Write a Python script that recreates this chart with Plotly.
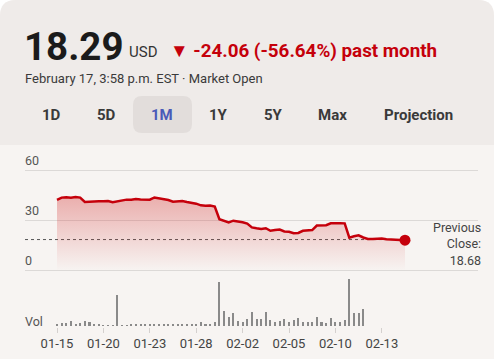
import plotly.graph_objects as go

W, H = 494, 359

# ---------------- data ----------------
price = [42.2, 43.6, 43.8, 43.5, 43.9, 43.6, 41.0, 41.3, 41.6, 41.5,
         41.4, 41.6, 40.9, 41.3, 41.8, 42.4, 42.3, 42.8, 42.5, 42.6,
         42.4, 43.7, 43.3, 42.9, 42.2, 41.2, 41.4, 41.6, 41.0, 40.6,
         40.0, 39.0, 38.7, 38.9, 38.3, 30.8, 30.0, 28.9, 29.9, 29.6,
         29.0, 28.2, 25.9, 25.4, 25.0, 25.4, 23.9, 24.3, 24.6, 23.5,
         23.3, 22.4, 22.6, 23.9, 24.1, 24.3, 27.0, 27.2, 27.2, 28.3,
         28.5, 28.4, 28.3, 19.8, 20.6, 21.2, 19.9, 19.0, 19.0, 19.1,
         19.3, 18.9, 18.8, 18.6, 18.5, 18.29]
volume = [2.3, 2.7, 2.7, 4.7, 2.3, 2.7, 5.3, 4.0, 2.0, 1.7,
          1.3, 1.3, 1.3, 31.0, 1.3, 1.3, 1.7, 2.3, 1.7, 2.0,
          2.3, 2.0, 2.0, 2.0, 2.3, 2.0, 2.3, 2.3, 2.0, 2.0,
          2.3, 3.7, 2.3, 2.0, 3.7, 44.5, 15.3, 9.3, 12.7, 5.3,
          4.0, 7.3, 13.7, 6.7, 6.7, 14.3, 6.0, 4.3, 5.3, 6.7,
          3.7, 6.0, 7.7, 3.7, 3.7, 4.3, 9.3, 4.3, 3.3, 7.7,
          4.3, 3.7, 6.0, 47.0, 12.7, 13.0, 17.0]
tick_pos = [0, 10, 20, 30, 40, 50, 60, 70]
tick_text = ["01-15", "01-20", "01-23", "01-28", "02-02", "02-05", "02-10", "02-13"]
price_ticks = [0, 30, 60]
prev_close = 18.68
last_price = "18.29"
change_text = "▼ -24.06 (-56.64%) past month"
ranges = ["1D", "5D", "1M", "1Y", "5Y", "Max", "Projection"]
range_x = [51, 106, 162, 218, 273, 332, 418]
selected = "1M"

# ---------------- helpers ----------------
def px(x):
    return x / W

def py(y):
    return 1 - y / H

RED = "#c5000b"
xi = list(range(len(price)))
vi = list(range(len(volume)))

fig = go.Figure()

fig.add_trace(go.Scatter(
    x=xi, y=price, mode="lines", line=dict(color=RED, width=2.5),
    fill="tozeroy",
    fillgradient=dict(type="vertical",
                      colorscale=[[0, "rgba(210,40,40,0.0)"], [1, "rgba(210,40,40,0.34)"]]),
    hoverinfo="skip", xaxis="x", yaxis="y", showlegend=False))
fig.add_trace(go.Scatter(
    x=[xi[-1]], y=[price[-1]], mode="markers",
    marker=dict(color=RED, size=11), hoverinfo="skip",
    xaxis="x", yaxis="y", showlegend=False))
fig.add_trace(go.Bar(
    x=vi, y=volume, width=0.44, marker=dict(color="#8a8a8a", line=dict(width=0)),
    hoverinfo="skip", xaxis="x2", yaxis="y2", showlegend=False))

step = 4.64
x_left = -(57 - 25) / step
x_right = (478 - 57) / step

grid = "#dcd9d7"
fig.update_layout(
    width=W, height=H, margin=dict(l=0, r=0, t=0, b=0),
    paper_bgcolor="#ffffff", plot_bgcolor="rgba(0,0,0,0)",
    font=dict(family="Roboto", color="#333"),
    bargap=0,
    xaxis=dict(domain=[px(25), px(478)], range=[x_left, x_right], showgrid=False,
               showticklabels=False, zeroline=False, anchor="y"),
    yaxis=dict(domain=[py(272), py(169)], range=[-0.6, 60.6], tickvals=price_ticks,
               showticklabels=False, gridcolor=grid, gridwidth=1, zeroline=False,
               anchor="x"),
    xaxis2=dict(domain=[px(25), px(478)], range=[x_left, x_right], matches="x",
                tickvals=tick_pos, ticktext=tick_text, showgrid=False, zeroline=False,
                ticks="outside", ticklen=5, tickcolor="#d4d0ce", tickwidth=1,
                tickfont=dict(size=13, color="#444"), anchor="y2"),
    yaxis2=dict(domain=[py(326.7), py(276)], range=[-0.7, 50], tickvals=[0],
                showticklabels=False, gridcolor="#dad7d5", gridwidth=1.5,
                zeroline=False, anchor="x2"),
)

def rounded_top(x0, y0, x1, y1, r):
    rx, ry = r / W, r / H
    X0, X1, Y0, Y1 = px(x0), px(x1), py(y0), py(y1)
    return (f"M {X0},{Y1} L {X0},{Y0 - ry} Q {X0},{Y0} {X0 + rx},{Y0} "
            f"L {X1 - rx},{Y0} Q {X1},{Y0} {X1},{Y0 - ry} L {X1},{Y1} Z")

def rounded_all(x0, y0, x1, y1, r):
    rx, ry = r / W, r / H
    X0, X1, Y0, Y1 = px(x0), px(x1), py(y0), py(y1)
    return (f"M {X0 + rx},{Y0} L {X1 - rx},{Y0} Q {X1},{Y0} {X1},{Y0 - ry} "
            f"L {X1},{Y1 + ry} Q {X1},{Y1} {X1 - rx},{Y1} L {X0 + rx},{Y1} "
            f"Q {X0},{Y1} {X0},{Y1 + ry} L {X0},{Y0 - ry} Q {X0},{Y0} {X0 + rx},{Y0} Z")

shapes = [
    dict(type="path", xref="paper", yref="paper", path=rounded_top(0, 0, 494, 359, 16),
         fillcolor="#f7f4f2", line=dict(width=0), layer="below"),
    dict(type="path", xref="paper", yref="paper", path=rounded_top(0, 0, 494, 145, 16),
         fillcolor="#efebe9", line=dict(width=0), layer="below"),
    dict(type="path", xref="paper", yref="paper",
         path=rounded_all(133, 96, 192, 133, 9),
         fillcolor="#e2dddb", line=dict(width=0), layer="below"),
    dict(type="line", xref="x", yref="y", x0=x_left, x1=xi[-1], y0=prev_close, y1=prev_close,
         line=dict(color="#555", width=1, dash="3px,3px"), layer="below"),
]
fig.update_layout(shapes=shapes)

ann = []
ann.append(dict(text=f"<b>{last_price}</b>", x=px(22), y=py(46), xref="paper", yref="paper",
                xanchor="left", yanchor="middle", showarrow=False,
                font=dict(size=38.5, color="#1b1b1b")))
ann.append(dict(text="USD", x=px(127), y=py(52), xref="paper", yref="paper",
                xanchor="left", yanchor="middle", showarrow=False,
                font=dict(size=15, color="#333")))
ann.append(dict(text=f"<b>{change_text}</b>", x=px(168), y=py(51), xref="paper", yref="paper",
                xanchor="left", yanchor="middle", showarrow=False,
                font=dict(size=18.8, color=RED)))
ann.append(dict(text="February 17, 3:58 p.m. EST · Market Open", x=px(23), y=py(78),
                xref="paper", yref="paper", xanchor="left", yanchor="middle",
                showarrow=False, font=dict(size=13, color="#3a3a3a")))
for lab, cx in zip(ranges, range_x):
    ann.append(dict(text=f"<b>{lab}</b>", x=px(cx), y=py(115), xref="paper", yref="paper",
                    xanchor="center", yanchor="middle", showarrow=False,
                    font=dict(size=15, color="#4a5ab8" if lab == selected else "#3a3a3a")))
for v in price_ticks:
    ann.append(dict(text=str(v), x=px(23), y=v, xref="paper", yref="y",
                    xanchor="left", yanchor="middle", yshift=10, showarrow=False,
                    font=dict(size=12.5, color="#555")))
ann.append(dict(text="Vol", x=px(23), y=0, xref="paper", yref="y2",
                xanchor="left", yanchor="middle", yshift=5, showarrow=False,
                font=dict(size=12.5, color="#555")))
ann.append(dict(text=f"Previous<br>Close:<br>{prev_close:.2f}", x=px(483), y=py(244),
                xref="paper", yref="paper", xanchor="right", yanchor="middle", align="right",
                showarrow=False, font=dict(size=12.5, color="#444")))
fig.update_layout(annotations=ann)

fig.write_html("out.html", config={"displayModeBar": False, "staticPlot": True},
               post_script="document.body.style.margin='0';document.body.style.overflow='hidden';")
